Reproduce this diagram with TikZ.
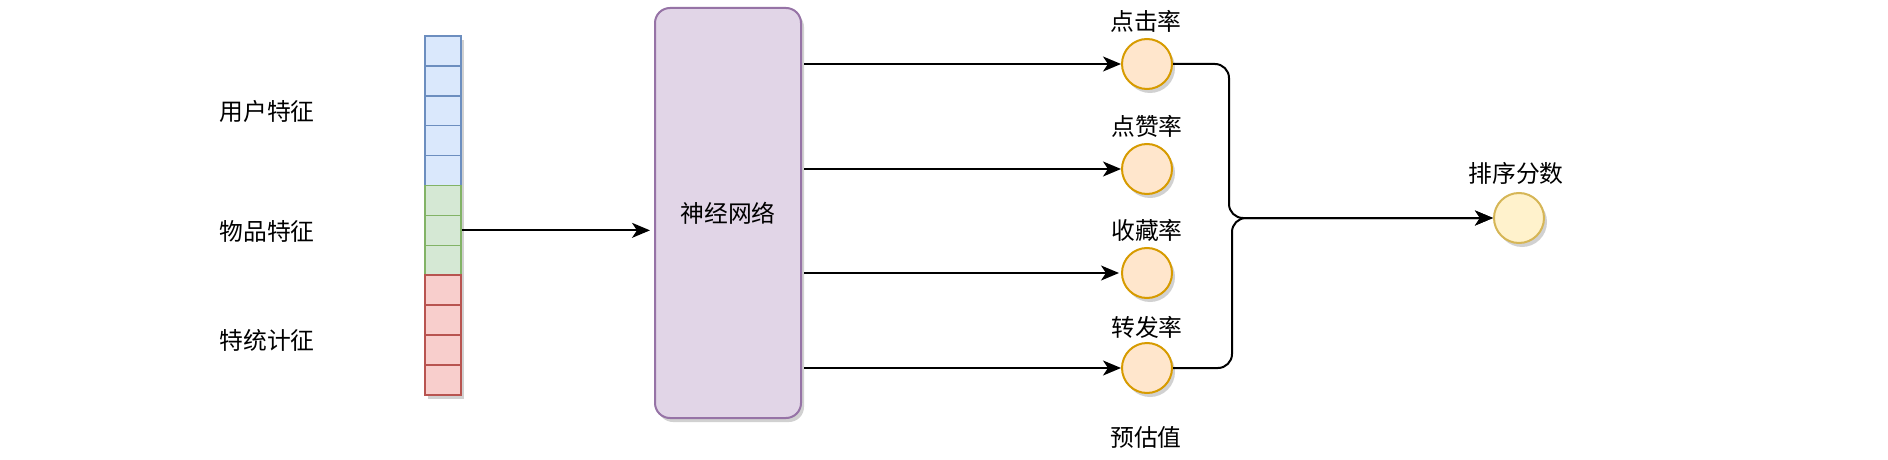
\documentclass[tikz,border=0pt]{standalone}
\usepackage{fontspec}
\setmainfont{Noto Sans CJK SC}
\usetikzlibrary{arrows.meta,shadows,calc}
\definecolor{bluef}{HTML}{DAE8FC}\definecolor{blued}{HTML}{6C8EBF}
\definecolor{greenf}{HTML}{D5E8D4}\definecolor{greend}{HTML}{82B366}
\definecolor{redf}{HTML}{F8CECC}\definecolor{redd}{HTML}{B85450}
\definecolor{purf}{HTML}{E1D5E7}\definecolor{purd}{HTML}{9673A6}
\definecolor{orf}{HTML}{FFE6CC}\definecolor{ord}{HTML}{D79B00}
\definecolor{yelf}{HTML}{FFF2CC}\definecolor{yeld}{HTML}{D6B656}
\begin{document}
\begin{tikzpicture}[x=1pt,y=-1pt,
  font=\fontsize{23.8}{28}\selectfont,
  shad/.style={drop shadow={shadow xshift=3pt,shadow yshift=-4pt,fill=black,opacity=0.18}},
  cell/.style={draw, shad, minimum width=36pt, minimum height=29.9pt, inner sep=0pt, line width=1.5pt},
  circ/.style={circle, draw, shad, minimum size=50pt, inner sep=0pt, line width=2pt},
  lbl/.style={inner sep=0pt},
  conn/.style={line width=2pt, -{Stealth[length=18pt,width=15pt,inset=5pt]}}
]
\useasboundingbox (0,0) rectangle (1888,460);
\fill[white] (0,0) rectangle (1888,460);

\foreach \i/\f/\d in {1/bluef/blued,2/bluef/blued,3/bluef/blued,4/bluef/blued,5/bluef/blued,
  6/greenf/greend,7/greenf/greend,8/greenf/greend,
  9/redf/redd,10/redf/redd,11/redf/redd,12/redf/redd}
  \node[cell, fill=\f, draw=\d] (c\i) at (443, {36+(\i-0.5)*29.9}) {};

\node[lbl] (l1) at (267,111) {用户特征};
\node[lbl] (l2) at (267,231) {物品特征};
\node[lbl] (l3) at (267,340) {特统计征};

\node[draw=purd, fill=purf, shad, line width=2pt, rounded corners=15pt,
  minimum width=146pt, minimum height=410pt, inner sep=0pt] (nn) at (728,213) {神经网络};

\node[circ, fill=orf, draw=ord] (o1) at (1147,64) {};
\node[circ, fill=orf, draw=ord] (o2) at (1147,169) {};
\node[circ, fill=orf, draw=ord] (o3) at (1147,273) {};
\node[circ, fill=orf, draw=ord] (o4) at (1147,368) {};
\node[circ, fill=yelf, draw=yeld] (r) at (1519,218) {};

\node[lbl] (t1) at (1146,21) {点击率};
\node[lbl] (t2) at (1147,126) {点赞率};
\node[lbl] (t3) at (1147,230) {收藏率};
\node[lbl] (t4) at (1147,327) {转发率};
\node[lbl] (t5) at (1146,437) {预估值};
\node[lbl] (t6) at (1516,173) {排序分数};

\coordinate (ja) at (1229,0);
\coordinate (jb) at (1232,0);

\draw[conn, shorten >=4pt] (c7.east) -- (c7.east -| nn.west);
\draw[conn, shorten <=2pt] (o1 -| nn.east) -- (o1.west);
\draw[conn, shorten <=2pt] (o2 -| nn.east) -- (o2.west);
\draw[conn, shorten <=2pt, shorten >=2pt] (o3 -| nn.east) -- (o3.west);
\draw[conn, shorten <=2pt] (o4 -| nn.east) -- (o4.west);
\draw[conn, rounded corners=14pt] (o1.east) -- (o1.east -| ja) -- (ja |- r.west) -- (r.west);
\draw[conn, rounded corners=14pt] (o4.east) -- (o4.east -| jb) -- (jb |- r.west) -- (r.west);
\end{tikzpicture}
\end{document}
